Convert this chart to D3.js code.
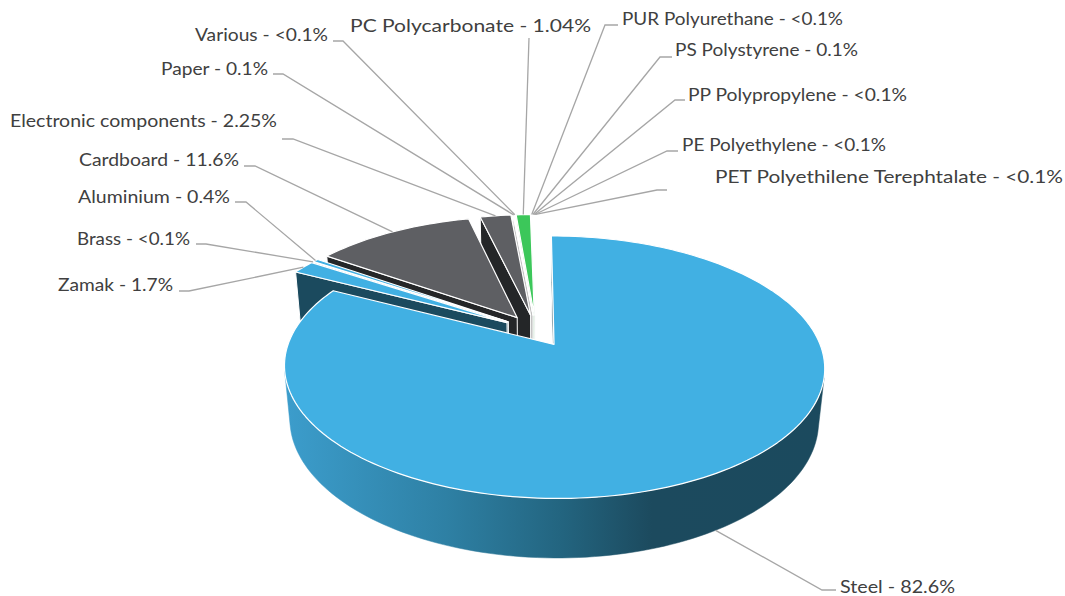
<!DOCTYPE html>
<html>
<head>
<meta charset="utf-8">
<script src="https://cdn.jsdelivr.net/npm/d3@7/dist/d3.min.js"></script>
<style>
  body { margin: 0; background: #fff; }
  text { font-family: Lato, "Open Sans", sans-serif; fill: #404040; }
</style>
</head>
<body>
<svg id="chart" width="1065" height="596"></svg>
<script>
// data (percent of total weight)
var categories = ["Steel", "Zamak", "Brass", "Aluminium", "Cardboard", "Electronic components",
  "Paper", "Various", "PC Polycarbonate", "PUR Polyurethane", "PS Polystyrene",
  "PP Polypropylene", "PE Polyethylene", "PET Polyethilene Terephtalate"];
var values = [82.6, 1.7, 0.05, 0.4, 11.6, 2.25, 0.1, 0.05, 1.04, 0.05, 0.1, 0.05, 0.05, 0.05];
var valueLabels = ["82.6%", "1.7%", "<0.1%", "0.4%", "11.6%", "2.25%", "0.1%", "<0.1%",
  "1.04%", "<0.1%", "0.1%", "<0.1%", "<0.1%", "<0.1%"];

// colours
var topColors = ["#41b0e3", "#41b0e3", "#41b0e3", "#41b0e3", "#5e5f63", "#5e5f63", "#ededed",
  "#ededed", "#3cc75a", "#f2f2f2", "#f2f2f2", "#f2f2f2", "#f2f2f2", "#f2f2f2"];
var sideColors = ["#1b4a5e", "#1b4a5e", "#1b4a5e", "#1b4a5e", "#242628", "#242628", "#bfbfbf",
  "#bfbfbf", "#2a8a3e", "#d9d9d9", "#d9d9d9", "#d9d9d9", "#d9d9d9", "#d9d9d9"];

// label layout: text left, text right, baseline, leader elbow (near text -> turn)
var labelLayout = [
  [840, 955, 593, 836, 590, 822, 590],
  [58, 173, 291, 179, 291, 189, 291],
  [77, 190, 245, 196, 244, 206, 244],
  [78, 230, 203, 235, 202, 246, 202],
  [79, 239, 166, 244, 166, 255, 166],
  [10, 277, 127, 282, 139, 293, 139],
  [161, 268, 75, 273, 74, 283, 74],
  [195, 328, 41, 333, 41, 343, 41],
  [350, 591, 32, 529, 38, 529, 38],
  [622, 843, 25, 618, 25, 605, 25],
  [675, 858, 56, 672, 57, 660, 57],
  [688, 907, 101, 685, 100, 675, 100],
  [682, 886, 151, 678, 151, 667, 151],
  [715, 1063, 183, 667, 190, 657, 190]
];

var ox = 536, oy = 330.6, k = 261, D = 5.19, depth = 0.23, explode = 0.13;
var alpha = 28 * Math.PI / 180, sa = Math.sin(alpha), ca = Math.cos(alpha);
var cam = [0, D * sa, -D * ca];

function project(p) {
  var yc = p[1] * ca + p[2] * sa, zc = p[2] * ca - p[1] * sa, s = D / (D + zc);
  return [ox + k * p[0] * s, oy - k * yc * s];
}

var svg = d3.select("#chart");
var defs = svg.append("defs");

var pie = d3.pie().sort(null).value(function(d) { return d; })
  .startAngle(0).endAngle(2 * Math.PI);
var arcs = pie(values);

function centre(a) {
  var m = (a.startAngle + a.endAngle) / 2;
  return [explode * Math.sin(m), explode * Math.cos(m)];
}
function rim(a, t, y) {
  var c = centre(a);
  return [c[0] + Math.sin(t), y, c[1] + Math.cos(t)];
}
function angles(a) {
  var n = Math.max(2, Math.ceil((a.endAngle - a.startAngle) / (Math.PI / 120)));
  return d3.range(n + 1).map(function(i) {
    return a.startAngle + (a.endAngle - a.startAngle) * i / n;
  });
}
function centroid(pts) {
  return [d3.mean(pts, function(p) { return p[0]; }), d3.mean(pts, function(p) { return p[1]; }),
    d3.mean(pts, function(p) { return p[2]; })];
}
function facing(n, c) {
  return n[0] * (cam[0] - c[0]) + n[1] * (cam[1] - c[1]) + n[2] * (cam[2] - c[2]) > 0;
}
function dist(pts) {
  var c = centroid(pts);
  return Math.hypot(cam[0] - c[0], cam[1] - c[1], cam[2] - c[2]);
}
var line = d3.line();
function facePath(pts) { return line(pts.map(project)) + "Z"; }

// gradient on the steel side wall
var steelX = angles(arcs[0]).map(function(t) { return project(rim(arcs[0], t, 0))[0]; });
var grad = defs.append("linearGradient").attr("id", "steelSide")
  .attr("gradientUnits", "userSpaceOnUse")
  .attr("x1", d3.min(steelX)).attr("x2", d3.max(steelX)).attr("y1", 0).attr("y2", 0);
[[0, "#3c9dcc"], [0.3, "#2e80a4"], [0.51, "#236580"], [0.68, "#1c4a5e"], [1, "#1b4a5e"]]
  .forEach(function(s) { grad.append("stop").attr("offset", s[0]).attr("stop-color", s[1]); });

// side faces: radial walls + outer wall (visible run merged into one face)
var faces = [];
arcs.forEach(function(a, i) {
  var c = centre(a);
  var apexT = [c[0], 0, c[1]], apexB = [c[0], -depth, c[1]];
  [[a.startAngle, -1], [a.endAngle, 1]].forEach(function(e) {
    var t = e[0], n = [e[1] * Math.cos(t), 0, -e[1] * Math.sin(t)];
    var pts = [apexT, rim(a, t, 0), rim(a, t, -depth), apexB];
    if (facing(n, centroid(pts))) faces.push({pts: pts, fill: sideColors[i], stroke: "#fff", sw: 1});
  });
  var ts = angles(a), run = [];
  function flush() {
    if (run.length > 1) {
      var top = run.map(function(t) { return rim(a, t, 0); });
      var bot = run.slice().reverse().map(function(t) { return rim(a, t, -depth); });
      var f = i === 0 ? "url(#steelSide)" : sideColors[i];
      faces.push({pts: top.concat(bot), fill: f, stroke: f, sw: 0.5});
    }
    run = [];
  }
  for (var j = 0; j < ts.length - 1; j++) {
    var tm = (ts[j] + ts[j + 1]) / 2;
    var p = rim(a, tm, -depth / 2);
    if (facing([Math.sin(tm), 0, Math.cos(tm)], p)) {
      if (!run.length) run.push(ts[j]);
      run.push(ts[j + 1]);
    } else flush();
  }
  flush();
});
faces.sort(function(p, q) { return dist(q.pts) - dist(p.pts); });

svg.append("g").selectAll("path").data(faces).join("path")
  .attr("d", function(f) { return facePath(f.pts); })
  .attr("fill", function(f) { return f.fill; })
  .attr("stroke", function(f) { return f.stroke; })
  .attr("stroke-width", function(f) { return f.sw; })
  .attr("stroke-linejoin", "round");

// top faces
svg.append("g").selectAll("path").data(arcs).join("path")
  .attr("d", function(a) {
    var c = centre(a);
    var pts = [[c[0], 0, c[1]]].concat(angles(a).map(function(t) { return rim(a, t, 0); }));
    return facePath(pts);
  })
  .attr("fill", function(a, i) { return topColors[i]; })
  .attr("stroke", "#fff").attr("stroke-width", 1.2).attr("stroke-linejoin", "round");

// leaders
var leaders = svg.append("g");
arcs.forEach(function(a, i) {
  var m = (a.startAngle + a.endAngle) / 2;
  var anchor = project(rim(a, m, Math.cos(m) < 0 ? -depth : 0));
  var L = labelLayout[i];
  leaders.append("path")
    .attr("d", line([[L[3], L[4]], [L[5], L[6]], anchor]))
    .attr("fill", "none").attr("stroke", "#a6a6a6").attr("stroke-width", 1.3);
});

svg.append("g").selectAll("text").data(arcs).join("text")
  .attr("x", function(a, i) { return labelLayout[i][0]; })
  .attr("y", function(a, i) { return labelLayout[i][2]; })
  .attr("textLength", function(a, i) { return labelLayout[i][1] - labelLayout[i][0]; })
  .attr("lengthAdjust", "spacingAndGlyphs")
  .attr("font-size", 17.5)
  .text(function(a, i) { return categories[i] + " - " + valueLabels[i]; });
</script>
</body>
</html>
